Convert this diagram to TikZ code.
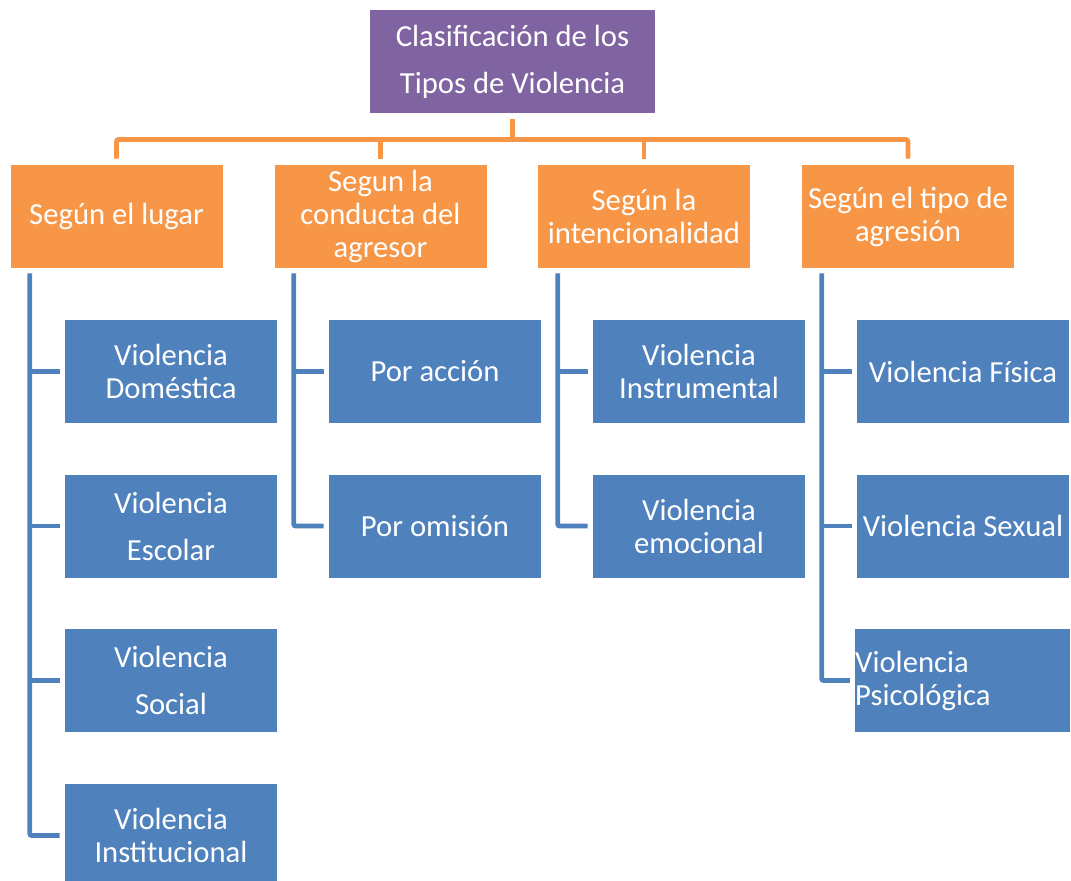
\documentclass[tikz,border=0pt]{standalone}
\usepackage{fontspec}
\setmainfont{Carlito}
\usetikzlibrary{calc}
\definecolor{cpurple}{HTML}{8064A2}
\definecolor{corange}{HTML}{F79646}
\definecolor{cblue}{HTML}{4F81BD}
\newcommand{\boxfont}{\fontsize{23}{24.75}\selectfont}
\begin{document}
\begin{tikzpicture}[x=0.75pt,y=-0.75pt,
  basebox/.style={minimum width=159pt,minimum height=77.25pt,inner sep=0pt,
    text=white,align=center,font=\boxfont,anchor=center},
  topbox/.style={basebox,fill=cpurple,minimum width=213.75pt},
  catbox/.style={basebox,fill=corange},
  itembox/.style={basebox,fill=cblue},
  oline/.style={draw=corange,line width=3.5pt,rounded corners=1.5pt},
  bline/.style={draw=cblue,line width=3.6pt,rounded corners=1.5pt}]
\useasboundingbox (0,0) rectangle (1071,881);
\begin{scope}
\clip (0,0) rectangle (1071,881);
% top
\node[topbox] (top) at (512.5,61.5) {Clasificación de los\\[10.5pt]Tipos de Violencia};
% categories
\node[catbox] (o1) at (116.5,216.5) {Según el lugar};
\node[catbox] (o2) at (380.5,216.5) {Segun la\\conducta del\\agresor};
\node[catbox] (o3) at (644,216.5) {Según la\\intencionalidad};
\node[catbox] (o4) at (908,216.5) {Según el tipo de\\agresión};
% items column 1
\node[itembox] (b11) at (171,371.5) {Violencia\\Doméstica};
\node[itembox] (b12) at (171,526) {Violencia\\[10.5pt]Escolar};
\node[itembox] (b13) at (171,680.5) {Violencia\\[10.5pt]Social};
\node[itembox] (b14) at (171,835.5) {Violencia\\Institucional};
% column 2
\node[itembox] (b21) at (435,371.5) {Por acción};
\node[itembox] (b22) at (435,526) {Por omisión};
% column 3
\node[itembox] (b31) at (699,371.5) {Violencia\\Instrumental};
\node[itembox] (b32) at (699,526) {Violencia\\emocional};
% column 4
\node[itembox] (b41) at (963,371.5) {Violencia Física};
\node[itembox] (b42) at (963,526) {Violencia Sexual};
\node[itembox,text width=161pt,align=flush left] (b43) at (962.5,680.5) {Violencia\\Psicológica};
% orange connectors
\coordinate (hub) at (512.5,139.5);
\draw[oline] ($(top.south)+(0,6)$) -- (hub);
\draw[oline] ($(o1.north)+(0,-6)$) |- (hub) -| ($(o4.north)+(0,-6)$);
\draw[oline] ($(o2.north)+(0,-6)$) -- (o2.north |- hub);
\draw[oline] ($(o3.north)+(0,-6)$) -- (o3.north |- hub);
% blue connectors
\foreach \o/\f/\l in {o1/b11/b14, o2/b21/b22, o3/b31/b32, o4/b41/b43}{
  \draw[bline] ($(\f.west |- \o.south)+(-35,5)$) |- ($(\l.west)+(-5,0)$);
}
\foreach \b in {b11,b12,b13,b21,b31,b41,b42}{
  \draw[bline] ($(\b.west)+(-35,0)$) -- ($(\b.west)+(-5,0)$);
}
\end{scope}
\end{tikzpicture}
\end{document}
